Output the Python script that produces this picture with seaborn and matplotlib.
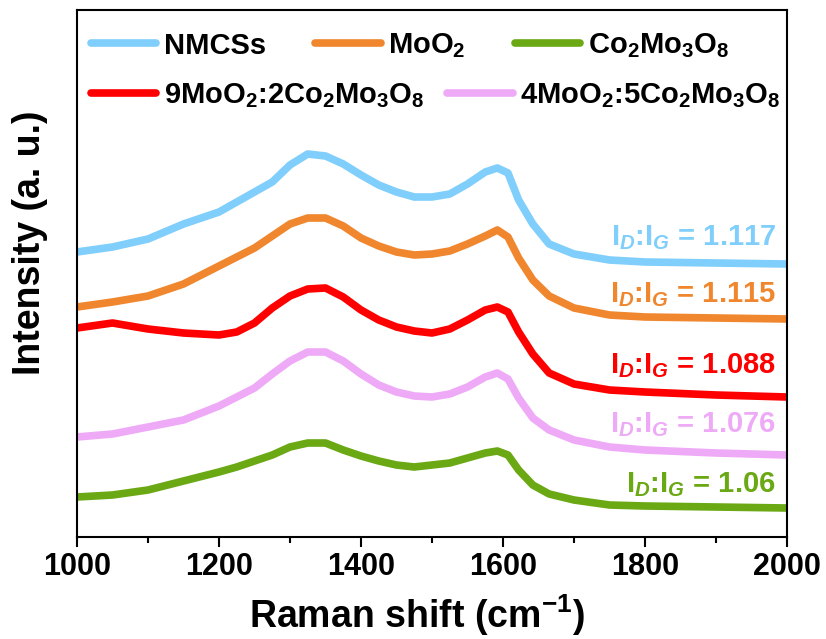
import matplotlib
matplotlib.use("Agg")
import matplotlib.pyplot as plt
from matplotlib.ticker import MultipleLocator
import seaborn as sns
import pandas as pd

# Raman shift grid (cm^-1)
shift = [1000, 1050, 1100, 1150, 1200, 1225, 1250, 1275, 1300, 1325, 1350, 1375, 1400,
         1425, 1450, 1475, 1500, 1525, 1550, 1575, 1592, 1607, 1622, 1642, 1665,
         1700, 1750, 1800, 1900, 2000]

# offset intensities (a. u.) as displayed
nmcss = [285, 290, 298, 313, 325, 335, 345, 355, 372, 383, 381, 373, 362, 352, 345, 340,
         340, 343, 353, 365, 369, 364, 337, 313, 293, 283, 277, 275, 274, 273]
moo2 = [230, 235, 241, 253, 271, 280, 289, 301, 313, 319, 319, 311, 299, 291, 285, 282,
        283, 286, 293, 301, 307, 300, 279, 257, 241, 229, 222, 220, 219, 218]
mix92 = [209, 214, 208, 204, 202, 205, 214, 229, 241, 248, 249, 240, 227, 217, 210, 206,
         204, 208, 217, 227, 230, 225, 205, 183, 164, 153, 147, 145, 142, 140]
mix45 = [100, 103, 110, 117, 131, 140, 149, 163, 176, 185, 185, 176, 163, 152, 145, 141,
         140, 143, 150, 160, 164, 158, 139, 119, 107, 97, 90, 87, 84, 82]
co2mo3o8 = [40, 42, 47, 56, 65, 70, 76, 82, 90, 94, 94, 87, 81, 76, 72, 70, 72, 74, 79,
            84, 86, 82, 67, 52, 43, 37, 32, 31, 30, 29]

names = ["NMCSs", r"MoO$_2$", r"Co$_2$Mo$_3$O$_8$",
         r"9MoO$_2$:2Co$_2$Mo$_3$O$_8$", r"4MoO$_2$:5Co$_2$Mo$_3$O$_8$"]
series = [nmcss, moo2, co2mo3o8, mix92, mix45]
colors = ["#80CEFB", "#F0862D", "#6AA814", "#FF0000", "#EEAAF7"]

ratios = ["1.117", "1.115", "1.06", "1.088", "1.076"]
ratio_y = [292, 235, 45, 164, 105]

rows = []
for n, s in zip(names, series):
    for x, y in zip(shift, s):
        rows.append({"shift": x, "intensity": y, "sample": n})
df = pd.DataFrame(rows)

sns.set_style("ticks")
plt.rcParams["font.family"] = ["Liberation Sans", "DejaVu Sans"]
plt.rcParams["font.weight"] = "bold"
plt.rcParams["text.color"] = "black"
plt.rcParams["axes.labelcolor"] = "black"
plt.rcParams["xtick.color"] = "black"
plt.rcParams["ytick.color"] = "black"
plt.rcParams["mathtext.fontset"] = "custom"
plt.rcParams["mathtext.rm"] = "Liberation Sans:bold"
plt.rcParams["mathtext.bf"] = "Liberation Sans:bold"
plt.rcParams["mathtext.it"] = "Liberation Sans:bold:italic"
plt.rcParams["mathtext.default"] = "rm"

fig = plt.figure(figsize=(8.26, 6.39), dpi=100)
ax = fig.add_axes([77 / 826, (639 - 537) / 639, 710 / 826, 527 / 639])

sns.lineplot(data=df, x="shift", y="intensity", hue="sample", hue_order=names,
             palette=dict(zip(names, colors)), linewidth=5.5, sort=False,
             estimator=None, ax=ax, legend=False)
lines = ax.get_lines()
for ln in lines:
    ln.set_solid_joinstyle("round")
    ln.set_solid_capstyle("round")

ax.set_xlim(1000, 2000)
ax.set_ylim(0, 527)
ax.set_yticks([])
ax.xaxis.set_major_locator(MultipleLocator(200))
ax.xaxis.set_minor_locator(MultipleLocator(100))
ax.tick_params(axis="x", which="major", direction="out", length=7, width=1.5,
               labelsize=22, pad=4, colors="black")
ax.tick_params(axis="x", which="minor", direction="out", length=4, width=1.5,
               colors="black")
for lab in ax.get_xticklabels():
    lab.set_fontweight("bold")
for sp in ax.spines.values():
    sp.set_linewidth(1.5)
    sp.set_color("black")

ax.set_xlabel(r"Raman shift (cm$^{-1}$)", fontsize=27, fontweight="bold",
              labelpad=6, color="black")
ax.xaxis.set_label_coords(0.478, -0.105)
ax.set_ylabel("Intensity (a. u.)", fontsize=27, fontweight="bold", color="black")
ax.yaxis.set_label_coords(-0.041, 0.558)

for r, yv, c in zip(ratios, ratio_y, colors):
    ax.text(1984.5, yv, r"I$_{\mathit{D}}$:I$_{\mathit{G}}$ = " + r, color=c,
            fontsize=21, fontweight="bold", ha="right", va="baseline")

leg1 = ax.legend(lines[:3], names[:3], loc="center left",
                 bbox_to_anchor=(0.0197, 0.9317), ncol=3, frameon=False,
                 borderpad=0, borderaxespad=0, handlelength=2.24,
                 handletextpad=0.25, columnspacing=1.7,
                 prop={"size": 21, "weight": "bold"})
for h in leg1.get_lines():
    h.set_linewidth(5.5)
for t in leg1.get_texts():
    t.set_color("black")
ax.add_artist(leg1)
leg2 = ax.legend(lines[3:], names[3:], loc="center left",
                 bbox_to_anchor=(0.0197, 0.8368), ncol=2, frameon=False,
                 borderpad=0, borderaxespad=0, handlelength=2.24,
                 handletextpad=0.25, columnspacing=0.8,
                 prop={"size": 21, "weight": "bold"})
for h in leg2.get_lines():
    h.set_linewidth(5.5)
for t in leg2.get_texts():
    t.set_color("black")

fig.savefig("out.png", dpi=100)
